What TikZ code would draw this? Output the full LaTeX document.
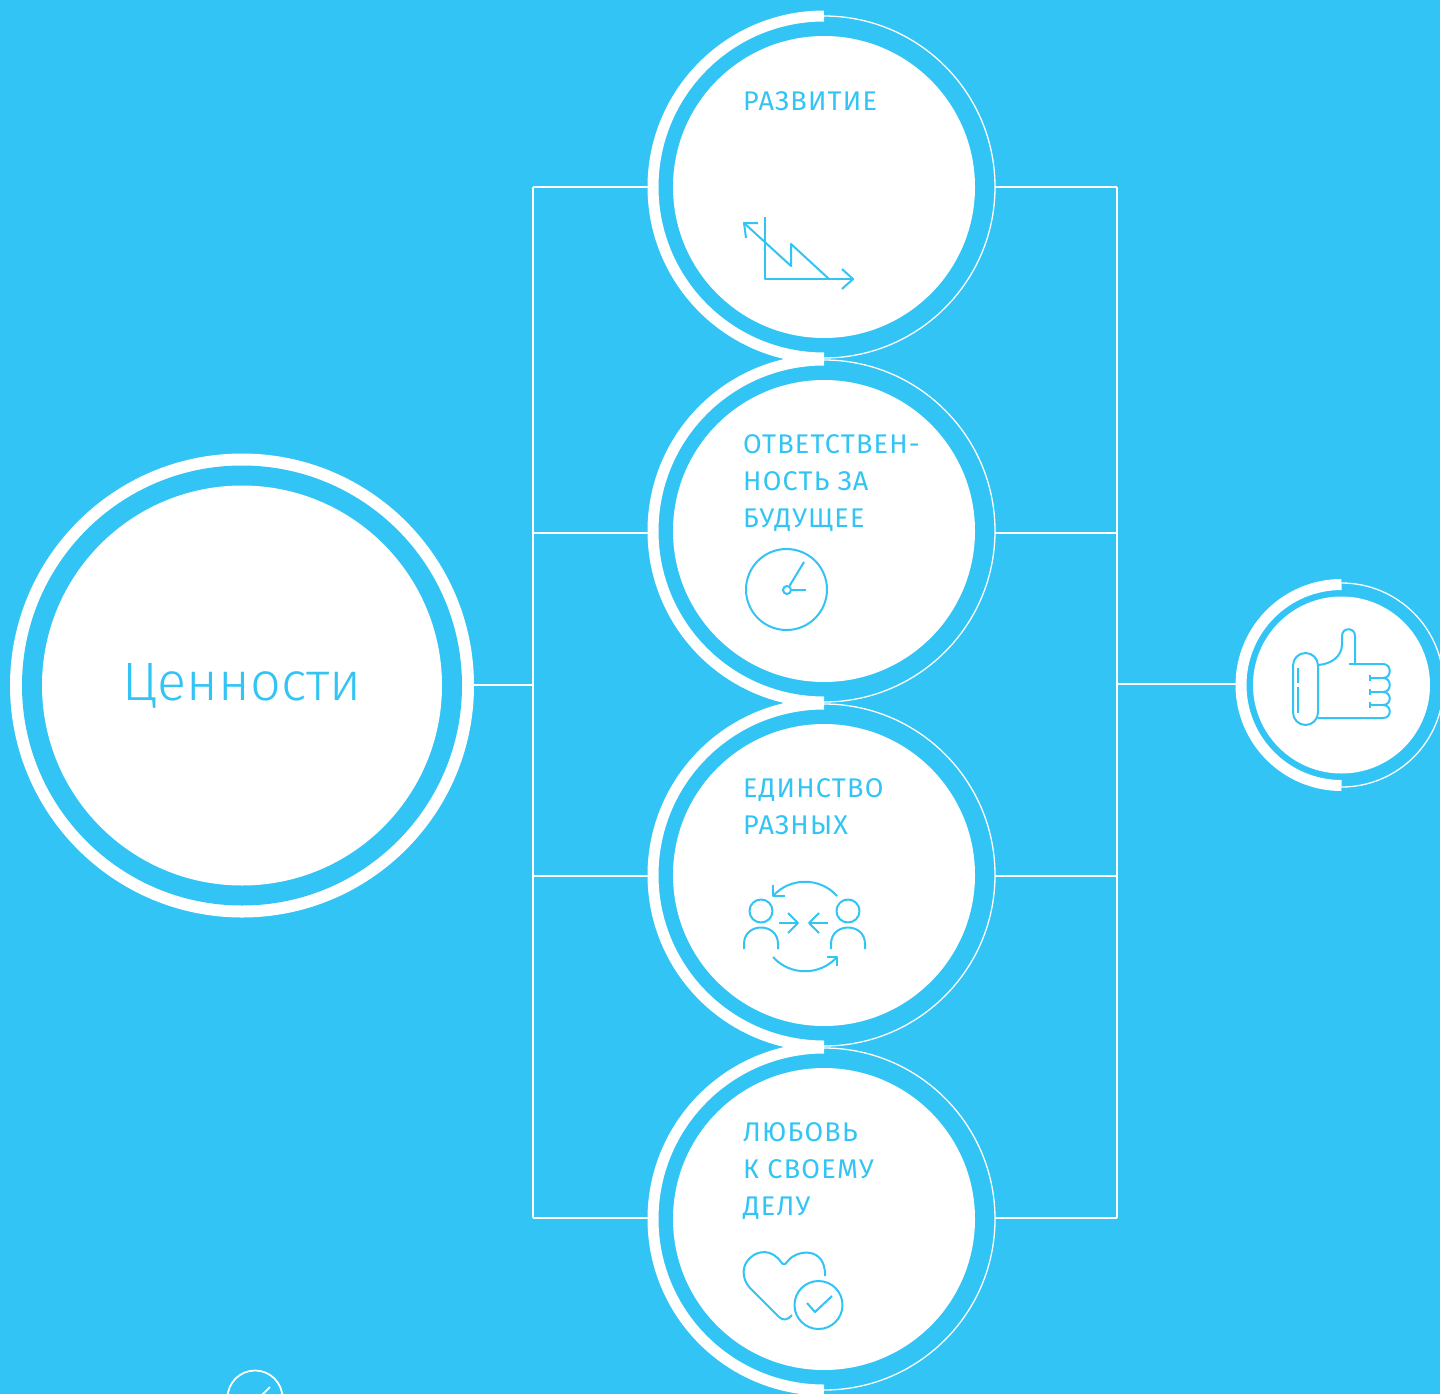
\documentclass[tikz,border=0pt]{standalone}
\usepackage{fontspec}
\setmainfont{Fira Sans}[LetterSpace=4.5]
\newfontfamily\headfont{Fira Sans Light}
\definecolor{skyblue}{HTML}{31C4F5}
\tikzset{
    wire/.style = {draw=white, line width=1.1pt},
    disc/.style = {circle, fill=white, inner sep=0pt, outer sep=0pt},
    thinring/.style = {circle, draw=white, line width=1.3pt, fill=skyblue, inner sep=0pt, outer sep=0pt},
    halfring/.style = {draw=white, line width=11pt},
    icon/.style = {draw=skyblue, line width=2pt, line join=round},
    caption/.style = {text=skyblue, font=\fontsize{27}{37}\selectfont, align=left, inner sep=0pt, anchor=north west}
}
\begin{document}
\begin{tikzpicture}[x=1pt, y=-1pt]
            \useasboundingbox (0,0) rectangle (1440,1394);
            \clip (0,0) rectangle (1440,1394);
            \fill[skyblue] (0,0) rectangle (1440,1394);

            \coordinate (lbus1) at (533,187);
            \coordinate (lbus2) at (533,533);
            \coordinate (lbus3) at (533,876);
            \coordinate (lbus4) at (533,1218);
            \coordinate (rbus1) at (1117,187);
            \coordinate (rbus2) at (1117,533);
            \coordinate (rbus3) at (1117,876);
            \coordinate (rbus4) at (1117,1218);
            \coordinate (lmid) at (533,685);
            \coordinate (rmid) at (1117,684);

            \node[disc, minimum size=464pt] (values) at (242,685.5) {};
            \node[thinring, minimum size=342pt] (growth) at (824,187) {};
            \node[thinring, minimum size=342pt] (future) at (824,531) {};
            \node[thinring, minimum size=342pt] (unity) at (824,875) {};
            \node[thinring, minimum size=342pt] (love) at (824,1219) {};
            \node[thinring, minimum size=204pt] (thumb) at (1341.5,685) {};
            \node[circle, draw=white, line width=1.8pt, minimum size=55pt] (small) at (255,1398) {};

            \draw[wire] (lbus1) -- (lbus4);
            \draw[wire] (rbus1) -- (rbus4);
            \draw[wire] (lmid) -- (lmid -| values.east);
            \draw[wire] (lbus1) -- (growth.west);
            \draw[wire] (lbus2) -- (lbus2 -| future.west);
            \draw[wire] (lbus3) -- (lbus3 -| unity.west);
            \draw[wire] (lbus4) -- (lbus4 -| love.west);
            \draw[wire] (rbus1) -- (growth.east);
            \draw[wire] (rbus2) -- (rbus2 -| future.east);
            \draw[wire] (rbus3) -- (rbus3 -| unity.east);
            \draw[wire] (rbus4) -- (rbus4 -| love.east);
            \draw[wire] (rmid) -- (rmid -| thumb.west);

            \draw[halfring] (growth.north) arc[start angle=90, end angle=270, radius=171pt];
            \draw[halfring] (future.north) arc[start angle=90, end angle=270, radius=171pt];
            \draw[halfring] (unity.north) arc[start angle=90, end angle=270, radius=171pt];
            \draw[halfring] (love.north) arc[start angle=90, end angle=270, radius=171pt];
            \draw[halfring] ([yshift=-1.5pt]thumb.north) arc[start angle=90, end angle=270, radius=100.5pt];

            \node[circle, fill=skyblue, minimum size=440pt] (valuesgap) at (values) {};
            \node[disc, minimum size=400pt, text=skyblue, font=\headfont\fontsize{54}{54}\selectfont] (valuesdisc) at (values) {\raisebox{-1.5pt}{Ценности}};
            \node[disc, minimum size=302pt] (growthdisc) at (growth) {};
            \node[disc, minimum size=302pt] (futuredisc) at (future) {};
            \node[disc, minimum size=302pt] (unitydisc) at (unity) {};
            \node[disc, minimum size=302pt] (lovedisc) at (love) {};
            \node[disc, minimum size=177pt] (thumbdisc) at (thumb) {};

            \node[caption] (growthtext) at (743,91) {РАЗВИТИЕ};
            \node[caption] (futuretext) at (743,434) {ОТВЕТСТВЕН-\\НОСТЬ ЗА\\БУДУЩЕЕ};
            \node[caption] (unitytext) at (743,778) {ЕДИНСТВО\\РАЗНЫХ};
            \node[caption] (lovetext) at (743,1122) {ЛЮБОВЬ\\К СВОЕМУ\\ДЕЛУ};

            % growth icon
            \draw[icon] (765,217) -- (765,279) -- (853,279);
            \draw[icon] (842,269) -- (853,279) -- (842,289);
            \draw[icon] (829,279) -- (791,244) -- (791,266) -- (744,223);
            \draw[icon] (758,223) -- (744,223) -- (746,238);

            % clock icon
            \node[circle, icon, minimum size=81pt] (clockface) at (786.5,589.5) {};
            \node[circle, icon, minimum size=8pt, inner sep=0pt] (clockhub) at (787,590) {};
            \coordinate (clockhand1) at (804,562);
            \coordinate (clockhand2) at (806,590);
            \draw[icon] (clockhub) -- (clockhand1);
            \draw[icon] (clockhub) -- (clockhand2);

            % people icon
            \node[circle, icon, minimum size=23pt, inner sep=0pt] (headl) at (761,911) {};
            \node[circle, icon, minimum size=23pt, inner sep=0pt] (headr) at (848,911) {};
            \draw[icon] (744,949) -- (744,944) .. controls (744,922) and (778,922) .. (778,944) -- (778,949);
            \draw[icon] (831,949) -- (831,944) .. controls (831,922) and (865,922) .. (865,944) -- (865,949);
            \draw[icon] (779,923) -- (798,923);
            \draw[icon] (788,913) -- (798,923) -- (788,933);
            \draw[icon] (828,923) -- (809,923);
            \draw[icon] (819,913) -- (809,923) -- (819,933);
            \draw[icon] (837,896) .. controls (820,877) and (790,877) .. (773,896);
            \draw[icon] (773,885) -- (773,896) -- (785,896);
            \draw[icon] (773,957) .. controls (790,976) and (820,976) .. (837,957);
            \draw[icon] (827,957) -- (837,957) -- (837,966);

            % heart icon
            \draw[icon] (792,1315) .. controls (788,1320) and (783,1321) .. (779,1317) -- (750,1288)
                .. controls (741,1278) and (742,1265) .. (750,1258)
                .. controls (758,1250) and (772,1249) .. (781,1262)
                .. controls (783,1265) and (785,1265) .. (787,1262)
                .. controls (796,1249) and (826,1246) .. (825,1276);
            \node[circle, icon, minimum size=48pt, inner sep=0pt] (checkcircle) at (818.5,1305) {};
            \draw[icon] (807,1303) -- (815,1312) -- (832,1296);

            % thumb icon
            \draw[icon, rounded corners=12.5pt] (1293,653) rectangle (1318,725);
            \draw[icon] (1298,668) -- (1298,683);
            \draw[icon] (1298,687) -- (1298,713);
            \draw[icon] (1318,665) .. controls (1332,664) and (1342,656) .. (1342,644) -- (1342,636)
                .. controls (1342,627) and (1355,627) .. (1355,636) -- (1355,664);
            \draw[icon] (1349,664) -- (1383,664);
            \draw[icon] (1383,664) .. controls (1392,664) and (1392,678) .. (1383,678)
                .. controls (1392,678) and (1392,692) .. (1383,692)
                .. controls (1392,692) and (1392,705) .. (1383,705)
                .. controls (1392,705) and (1392,718) .. (1383,718) -- (1318,718);
            \draw[icon] (1370,678) -- (1383,678);
            \draw[icon] (1370,692) -- (1383,692);
            \draw[icon] (1370,705) -- (1383,705);
            \draw[icon] (1370,675) -- (1370,681);
            \draw[icon] (1370,689) -- (1370,695);
            \draw[icon] (1370,702) -- (1370,708);

            % cut off check mark
            \draw[draw=white, line width=1.8pt] (270,1387) -- (262,1395);
        \end{tikzpicture}
\end{document}
